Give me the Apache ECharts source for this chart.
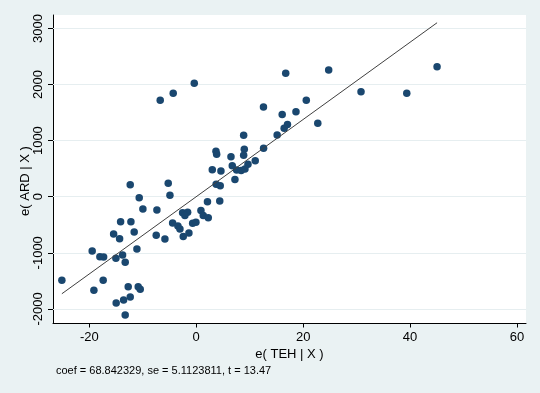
<!DOCTYPE html>
<html>
<head>
<meta charset="utf-8">
<script src="https://cdn.jsdelivr.net/npm/echarts@6/dist/echarts.min.js"></script>
<style>
html,body{margin:0;padding:0;background:#eaf2f3;}
#chart{width:540px;height:393px;}
</style>
</head>
<body>
<div id="chart"></div>
<script>
// residuals e(TEH | X)
var xValues = [-6.74,-4.31,-0.37,16.74,24.78,30.83,39.39,45.06,20.59,12.58,
  16.08,18.66,22.74,17.07,16.45,15.14,8.87,3.69,3.82,8.99,
  8.87,12.60,6.50,11.04,9.68,6.74,3.00,4.62,7.56,8.41,
  9.12,7.24,3.73,4.49,2.10,4.40,-2.55,-1.61,-2.12,0.88,
  1.31,2.25,-4.42,-3.43,-3.05,-0.67,-0.06,-2.43,-1.37,-12.35,
  -5.24,-4.92,-10.67,-9.98,-7.36,-14.15,-12.22,-15.46,-14.34,-11.61,
  -7.49,-5.86,-19.47,-18.03,-17.33,-15.03,-13.78,-13.29,-11.10,-25.14,
  -19.15,-17.41,-12.73,-10.86,-10.48,-12.35,-13.59,-14.98,-13.29];
// residuals e(ARD | X)
var yValues = [1719,1844,2022,2201,2260,1873,1844,2319,1719,1600,
  1466,1516,1311,1288,1222,1100,1095,810,756,845,
  738,865,713,640,580,551,480,458,476,467,
  494,307,221,196,-89,-77,-285,-278,-335,-246,
  -335,-375,-469,-523,-576,-474,-457,-710,-647,214,
  239,25,-18,-219,-237,-446,-446,-665,-749,-630,
  -688,-754,-968,-1070,-1075,-1099,-1040,-1170,-933,-1491,
  -1669,-1491,-1605,-1605,-1652,-1789,-1842,-1896,-2110];
var coef = 68.842329;
var se = 5.1123811;
var tStat = 13.47;
var xTicks = [-20, 0, 20, 40, 60];
var yTicks = [-2000, -1000, 0, 1000, 2000, 3000];
var xTitle = 'e( TEH | X )';
var yTitle = 'e( ARD | X )';
var noteText = 'coef = ' + coef.toFixed(6) + ', se = ' + se.toFixed(7) + ', t = ' + tStat.toFixed(2);

var points = xValues.map(function (x, i) { return [x, yValues[i]]; });
var xMin = Math.min.apply(null, xValues), xMax = Math.max.apply(null, xValues);
var fitLine = [[xMin, coef * xMin], [xMax, coef * xMax]];

var chart = echarts.init(document.getElementById('chart'), null, {renderer: 'canvas'});
var font = 'Liberation Sans, Arial, Helvetica, sans-serif';
function plain(v) { return String(v); }
chart.setOption({
  backgroundColor: '#eaf2f3',
  animation: false,
  grid: {left: 53, right: 14, top: 15, bottom: 69.5, show: true, backgroundColor: '#ffffff', borderWidth: 0},
  xAxis: {
    type: 'value', min: -26.8, max: 61.7,
    name: xTitle, nameLocation: 'middle', nameGap: 23,
    nameTextStyle: {color: '#000', fontSize: 13, fontFamily: font},
    axisLine: {show: true, onZero: false, lineStyle: {color: '#000', width: 1}},
    axisTick: {show: true, length: 4, customValues: xTicks, lineStyle: {color: '#000'}},
    axisLabel: {customValues: xTicks, formatter: plain, color: '#000', fontSize: 13, fontFamily: font, margin: 7},
    splitLine: {show: false}
  },
  yAxis: {
    type: 'value', min: -2261, max: 3240,
    axisLine: {show: true, onZero: false, lineStyle: {color: '#000', width: 1}},
    axisTick: {show: true, length: 5, customValues: yTicks, lineStyle: {color: '#000'}},
    axisLabel: {customValues: yTicks, formatter: plain, rotate: 90, color: '#000', fontSize: 13, fontFamily: font, margin: 8},
    splitLine: {show: false}
  },
  graphic: [
    {type: 'text', x: 25, y: 181, rotation: Math.PI / 2,
     style: {text: yTitle, fill: '#000', font: '13px ' + font, align: 'center', verticalAlign: 'middle'}},
    {type: 'text', x: 56, y: 371,
     style: {text: noteText, fill: '#000', font: '11px ' + font, align: 'left', verticalAlign: 'middle'}}
  ],
  series: [
    {
      type: 'line', data: [], z: 1, silent: true,
      markLine: {
        silent: true, symbol: 'none', label: {show: false}, z: 1,
        lineStyle: {color: '#e6eef0', width: 1.2, type: 'solid'},
        data: yTicks.map(function (v) { return {yAxis: v}; })
      }
    },
    {
      type: 'scatter', data: points, z: 3, symbol: 'circle', symbolSize: 7.5,
      itemStyle: {color: '#1a476f', opacity: 1}
    },
    {
      type: 'line', data: fitLine, z: 4, symbol: 'none', silent: true,
      lineStyle: {color: '#404040', width: 1}
    }
  ]
});
</script>
</body>
</html>
